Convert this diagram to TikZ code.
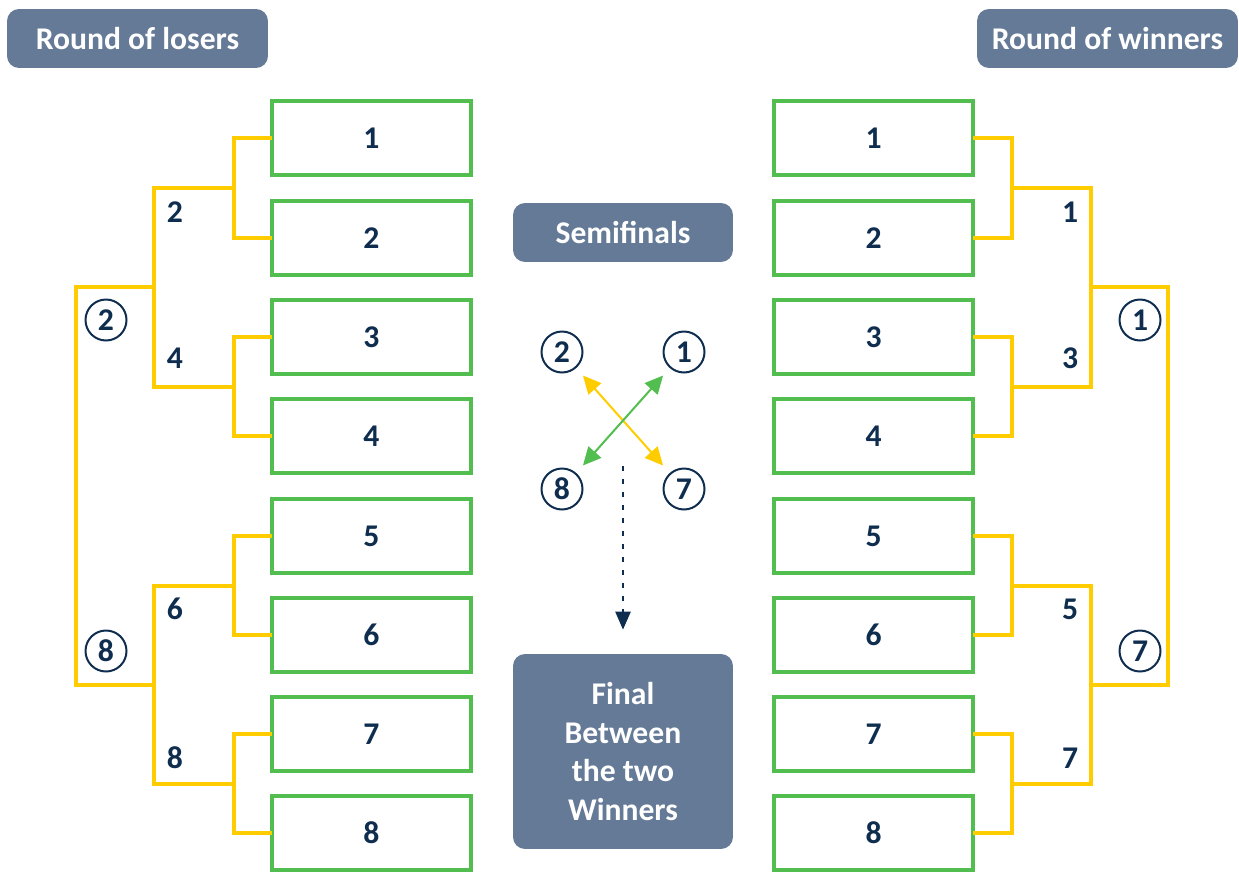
\documentclass[tikz,border=0pt]{standalone}
\usepackage{fontspec}
\setmainfont{Carlito}
\usepackage{xcolor}
\usepackage{tikz}
\usetikzlibrary{arrows.meta, positioning, calc}

\definecolor{boxgreen}{HTML}{52BE4F}
\definecolor{brackyellow}{HTML}{FFCC00}
\definecolor{navy}{HTML}{0F2D4E}
\definecolor{slate}{HTML}{647A96}

\begin{document}
\begin{tikzpicture}[
    x=0.02cm, y=-0.02cm,
    team/.style={draw=boxgreen, line width=0.08cm, rectangle, minimum width=3.98cm, minimum height=1.48cm, inner sep=0pt, outer sep=0pt, text=navy, font=\fontsize{18}{21}\selectfont\bfseries},
    banner/.style={fill=slate, rectangle, rounded corners=0.24cm, minimum height=1.18cm, align=center, text=white, font=\fontsize{18}{22}\selectfont\bfseries},
    seed/.style={draw=navy, circle, line width=0.04cm, minimum size=0.82cm, inner sep=0pt, text=navy, font=\fontsize{18}{21}\selectfont\bfseries},
    num/.style={text=navy, font=\fontsize{18}{21}\selectfont\bfseries},
    bracket/.style={draw=brackyellow, line width=0.08cm},
    cross/.style={{Triangle[length=0.36cm, width=0.34cm]}-{Triangle[length=0.36cm, width=0.34cm]}, line width=0.04cm, shorten <=0.2cm, shorten >=0.2cm},
    drop/.style={-{Triangle[length=0.36cm, width=0.3cm]}, draw=navy, line width=0.05cm, dash pattern=on 0.1cm off 0.16cm, shorten >=0.48cm},
]
\useasboundingbox (0,0) rectangle (1239,872);

% Headers
\node[banner, minimum width=5.22cm] (losers) at (137.5, 38.5) {Round of losers};
\node[banner, minimum width=5.22cm] (winners) at (1107.5, 38.5) {Round of winners};

% Left teams
\node[team] (L1) at (371.5, 138) {1};
\node[team] (L2) at (371.5, 238) {2};
\node[team] (L3) at (371.5, 337) {3};
\node[team] (L4) at (371.5, 436) {4};
\node[team] (L5) at (371.5, 536) {5};
\node[team] (L6) at (371.5, 635) {6};
\node[team] (L7) at (371.5, 734) {7};
\node[team] (L8) at (371.5, 833) {8};

% Right teams
\node[team] (R1) at (873.5, 138) {1};
\node[team] (R2) at (873.5, 238) {2};
\node[team] (R3) at (873.5, 337) {3};
\node[team] (R4) at (873.5, 436) {4};
\node[team] (R5) at (873.5, 536) {5};
\node[team] (R6) at (873.5, 635) {6};
\node[team] (R7) at (873.5, 734) {7};
\node[team] (R8) at (873.5, 833) {8};

% Left bracket joints
\coordinate (l12) at ($(L1.west)!0.5!(L2.west)+(-38,0)$);
\coordinate (l34) at ($(L3.west)!0.5!(L4.west)+(-38,0)$);
\coordinate (l56) at ($(L5.west)!0.5!(L6.west)+(-38,0)$);
\coordinate (l78) at ($(L7.west)!0.5!(L8.west)+(-38,0)$);
\coordinate (l14) at ($(l12)!0.5!(l34)+(-80,0)$);
\coordinate (l58) at ($(l56)!0.5!(l78)+(-80,0)$);
\coordinate (lall) at ($(l14)!0.5!(l58)+(-78,0)$);

% Right bracket joints
\coordinate (r12) at ($(R1.east)!0.5!(R2.east)+(39,0)$);
\coordinate (r34) at ($(R3.east)!0.5!(R4.east)+(39,0)$);
\coordinate (r56) at ($(R5.east)!0.5!(R6.east)+(39,0)$);
\coordinate (r78) at ($(R7.east)!0.5!(R8.east)+(39,0)$);
\coordinate (r14) at ($(r12)!0.5!(r34)+(79,0)$);
\coordinate (r58) at ($(r56)!0.5!(r78)+(79,0)$);
\coordinate (rall) at ($(r14)!0.5!(r58)+(77,0)$);

% Left bracket
\draw[bracket] (L1.west) -| (l12) |- (L2.west);
\draw[bracket] (L3.west) -| (l34) |- (L4.west);
\draw[bracket] (L5.west) -| (l56) |- (L6.west);
\draw[bracket] (L7.west) -| (l78) |- (L8.west);
\draw[bracket] (l12) -| (l14) |- (l34);
\draw[bracket] (l56) -| (l58) |- (l78);
\draw[bracket] (l14) -| (lall) |- (l58);

% Right bracket
\draw[bracket] (R1.east) -| (r12) |- (R2.east);
\draw[bracket] (R3.east) -| (r34) |- (R4.east);
\draw[bracket] (R5.east) -| (r56) |- (R6.east);
\draw[bracket] (R7.east) -| (r78) |- (R8.east);
\draw[bracket] (r12) -| (r14) |- (r34);
\draw[bracket] (r56) -| (r58) |- (r78);
\draw[bracket] (r14) -| (rall) |- (r58);

% Round winners
\node[num] (lw2) at (175, 212) {2};
\node[num] (lw4) at (175, 358) {4};
\node[num] (lw6) at (175, 609) {6};
\node[num] (lw8) at (175, 758) {8};
\node[num] (rw1) at (1070, 212) {1};
\node[num] (rw3) at (1070, 358) {3};
\node[num] (rw5) at (1070, 609) {5};
\node[num] (rw7) at (1070, 758) {7};

% Group winners
\node[seed] (lg2) at (106, 320) {2};
\node[seed] (lg8) at (106, 651) {8};
\node[seed] (rg1) at (1140, 320) {1};
\node[seed] (rg7) at (1140, 651) {7};

% Semifinals
\node[banner, minimum width=4.4cm] (semis) at (623, 232.5) {Semifinals};
\node[seed] (semi2) at (562, 352) {2};
\node[seed] (semi1) at (684, 352) {1};
\node[seed] (semi8) at (562, 489) {8};
\node[seed] (semi7) at (684, 489) {7};
\draw[cross, brackyellow] (semi2) -- (semi7);
\draw[cross, boxgreen] (semi1) -- (semi8);

% Final
\node[banner, minimum width=4.4cm, minimum height=3.9cm] (final) at (623, 751.5) {Final\\Between\\the two\\Winners};
\coordinate (dropstart) at (623, 466);
\draw[drop] (dropstart) -- (final.north);

\end{tikzpicture}
\end{document}
